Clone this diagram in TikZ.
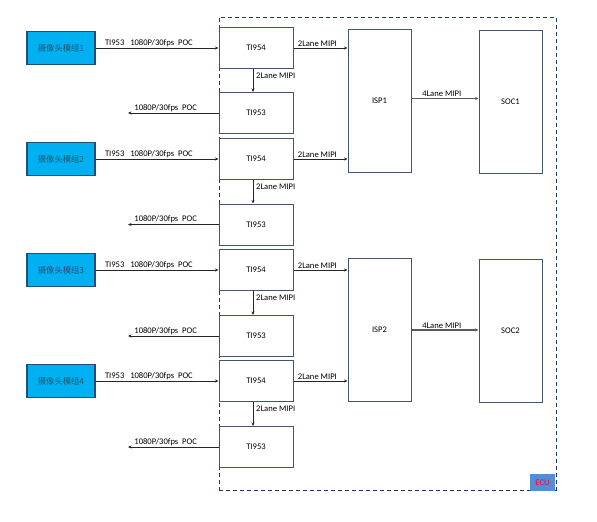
\documentclass[tikz,border=0pt]{standalone}
\usepackage{fontspec}
\setmainfont{Carlito}
\newfontfamily\cjk{Noto Sans CJK SC}
\usetikzlibrary{arrows.meta}
\definecolor{boxc}{HTML}{44546A}
\definecolor{navy}{HTML}{1F3864}
\definecolor{camfill}{HTML}{00B0F0}
\definecolor{camedge}{HTML}{1F4E79}
\definecolor{camtext}{HTML}{2F4F6F}
\definecolor{ecufill}{HTML}{558ED5}
\definecolor{ecutext}{HTML}{FF0040}
\definecolor{arrc}{HTML}{262626}
\definecolor{arrg}{HTML}{595959}
\begin{document}
\begin{tikzpicture}[x=1pt,y=-1pt,
  lbl/.style={font=\fontsize{8.6}{9}\selectfont, inner sep=1pt, text=black},
  tibox/.style={draw=boxc, line width=1pt, fill=white, minimum width=74pt, minimum height=41pt, inner sep=0pt, font=\fontsize{8.6}{9}\selectfont},
  bigbox/.style={draw=boxc, line width=1pt, fill=white, minimum width=63pt, minimum height=143pt, inner sep=0pt, font=\fontsize{8.6}{9}\selectfont},
  cambox/.style={draw=camedge, line width=1.2pt, fill=camfill, minimum width=68pt, minimum height=33pt, inner sep=0pt, font=\fontsize{8.3}{9}\cjk, text=camtext},
  arr/.style={draw=arrc, line width=0.8pt, -{Stealth[length=3.5pt,width=3pt]}},
  arrthick/.style={draw=arrg, line width=1.5pt, -{Stealth[length=3.5pt,width=3pt]}}
]
\useasboundingbox (0,0) rectangle (597,522);
% ECU dashed frame
\node[draw=navy, dashed, line width=1pt, dash pattern=on 4pt off 3pt, minimum width=337pt, minimum height=473pt, inner sep=0pt] (ecu) at (387.5,253.5) {};
\node[fill=ecufill, minimum width=25pt, minimum height=17pt, inner sep=0pt, font=\fontsize{8.6}{9}\selectfont, text=ecutext] (ecul) at (542.5,482.5) {ECU};

% ISP and SOC
\node[bigbox] (isp1) at (379.5,100.5) {ISP1};
\node[bigbox] (soc1) at (510.5,101.5) {SOC1};
\node[bigbox] (isp2) at (379.5,330) {ISP2};
\node[bigbox] (soc2) at (510.5,330.5) {SOC2};

% rows
\foreach \i/\ya/\yb in {1/48/113, 2/159/224.5, 3/270/336, 4/381/447} {
  \node[cambox] (cam\i) at (61,\ya) {摄像头模组\i};
  \node[tibox] (tia\i) at (256,\ya) {TI954};
  \node[tibox] (tib\i) at (256,\yb) {TI953};
  \coordinate (out\i) at (128,\yb);
  \draw[arr] (cam\i.east) -- (tia\i.west)
     node[lbl, pos=0, anchor=south west, xshift=8pt] {TI953\ \ \ 1080P/30fps\ \ POC};
  \draw[arr] ([xshift=-3pt]tia\i.south) -- ([xshift=-3pt]tib\i.north);
  \node[lbl, anchor=west] at (255,{\ya+28}) {2Lane MIPI};
  \draw[arr] (tib\i.west) -- (out\i)
     node[lbl, pos=1, anchor=south west, xshift=5pt] {1080P/30fps\ \ POC};
}
\draw[arr] (tia1.east) -- (tia1.east -| isp1.west) node[lbl, pos=0, anchor=south west, xshift=3pt] {2Lane MIPI};
\draw[arr] (tia2.east) -- (tia2.east -| isp1.west) node[lbl, pos=0, anchor=south west, xshift=3pt] {2Lane MIPI};
\draw[arr] (tia3.east) -- (tia3.east -| isp2.west) node[lbl, pos=0, anchor=south west, xshift=3pt] {2Lane MIPI};
\draw[arr] (tia4.east) -- (tia4.east -| isp2.west) node[lbl, pos=0, anchor=south west, xshift=3pt] {2Lane MIPI};
\draw[arrthick] ([yshift=2pt]isp1.east) -- ([yshift=2pt]isp1.east -| soc1.west) node[lbl, pos=0, anchor=south west, xshift=9pt] {4Lane MIPI};
\draw[arrthick] (isp2.east) -- (isp2.east -| soc2.west) node[lbl, pos=0, anchor=south west, xshift=9pt] {4Lane MIPI};
\end{tikzpicture}
\end{document}
